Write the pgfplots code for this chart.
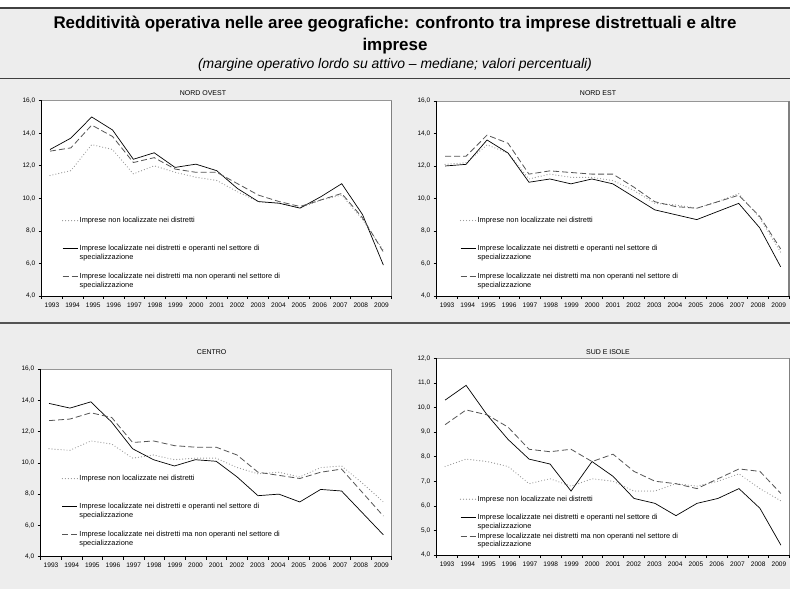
\documentclass[border=0pt]{standalone}
\usepackage{fontspec}
\setmainfont{Liberation Sans}
\usepackage{pgfplots}
\usepackage{pgfplotstable}
\pgfplotsset{compat=1.18}
\definecolor{bg}{RGB}{237,237,237}
\definecolor{dline}{RGB}{64,64,64}
\definecolor{dashc}{RGB}{85,85,85}
\definecolor{dotc}{RGB}{150,150,150}
\definecolor{frame}{RGB}{150,150,150}

\pgfplotstableread{
year dot sol dash
1993 11.4 13.0 12.9
1994 11.7 13.7 13.1
1995 13.3 15.0 14.5
1996 13.0 14.2 13.8
1997 11.5 12.4 12.2
1998 12.0 12.8 12.5
1999 11.6 11.9 11.8
2000 11.3 12.1 11.6
2001 11.1 11.7 11.6
2002 10.4 10.6 10.9
2003 9.8 9.8 10.2
2004 9.7 9.7 9.8
2005 9.4 9.4 9.5
2006 9.9 10.1 9.9
2007 10.2 10.9 10.3
2008 8.7 9.0 8.8
2009 6.8 5.9 6.7
}\NO
\pgfplotstableread{
year dot sol dash
1993 12.1 12.0 12.6
1994 12.2 12.1 12.6
1995 13.3 13.6 13.9
1996 12.8 12.8 13.4
1997 11.2 11.0 11.5
1998 11.5 11.2 11.7
1999 11.3 10.9 11.6
2000 11.3 11.2 11.5
2001 11.1 10.9 11.5
2002 10.5 10.1 10.7
2003 9.7 9.3 9.8
2004 9.6 9.0 9.5
2005 9.4 8.7 9.4
2006 9.8 9.2 9.8
2007 10.3 9.7 10.2
2008 8.8 8.2 8.9
2009 6.7 5.8 6.9
}\NE
\pgfplotstableread{
year dot sol dash
1993 10.9 13.8 12.7
1994 10.8 13.5 12.8
1995 11.4 13.9 13.2
1996 11.2 12.6 12.9
1997 10.3 10.9 11.3
1998 10.5 10.2 11.4
1999 10.2 9.8 11.1
2000 10.3 10.2 11.0
2001 10.3 10.1 11.0
2002 9.7 9.1 10.5
2003 9.3 7.9 9.4
2004 9.4 8.0 9.2
2005 9.1 7.5 9.0
2006 9.7 8.3 9.4
2007 9.8 8.2 9.6
2008 8.7 6.8 8.1
2009 7.5 5.4 6.6
}\CE
\pgfplotstableread{
year dot sol dash
1993 7.6 10.3 9.3
1994 7.9 10.9 9.9
1995 7.8 9.7 9.7
1996 7.6 8.7 9.2
1997 6.9 7.9 8.3
1998 7.1 7.7 8.2
1999 6.8 6.6 8.3
2000 7.1 7.8 7.8
2001 7.0 7.2 8.1
2002 6.6 6.3 7.4
2003 6.6 6.1 7.0
2004 6.9 5.6 6.9
2005 6.8 6.1 6.7
2006 7.0 6.3 7.1
2007 7.3 6.7 7.5
2008 6.7 5.9 7.4
2009 6.2 4.4 6.5
}\SU

\newcommand{\LA}{\vtop{\hbox{\strut Imprese non localizzate nei distretti}\hbox{\strut}}}
\newcommand{\LB}{\vtop{\hbox{\strut Imprese localizzate nei distretti e operanti nel settore di}\hbox{\strut specializzazione}}}
\newcommand{\LC}{\vtop{\hbox{\strut Imprese localizzate nei distretti ma non operanti nel settore di}\hbox{\strut specializzazione}}}

\pgfplotsset{
  panel/.style={
    scale only axis,
    axis background/.style={fill=white},
    xmin=1992.6, xmax=2009.4,
    xtick=\empty,
    ytick pos=left,
    tick align=outside,
    major tick length=3bp,
    tick style={black, line width=0.6bp},
    axis line style={draw=none},
    yticklabel style={font=\fontsize{6.5}{7}\selectfont,
      /pgf/number format/fixed, /pgf/number format/fixed zerofill,
      /pgf/number format/precision=1, /pgf/number format/use comma,
      /pgf/number format/assume math mode=true},
    after end axis/.code={
      \draw[frame, line width=0.8bp] (rel axis cs:0,1) -- (rel axis cs:1,1);
      \draw[gray, line width=1.4bp] (rel axis cs:1,1) -- (rel axis cs:1,0);
      \draw[black, line width=0.8bp] (rel axis cs:0,1) -- (rel axis cs:0,0) -- (rel axis cs:1,0);
    },
    legend style={draw=none, fill=none, inner sep=0pt, outer sep=0pt,
      anchor=north west, cells={anchor=base west},
      nodes={inner sep=0pt, text depth=, text height=, font=\fontsize{7.4}{8.7}\selectfont},
      column sep=1.5bp, row sep=10.6bp},
    legend image code/.code={\draw[##1] (0bp,2.3bp) -- (15bp,2.3bp);},
  },
  xlab/.style={
    scale only axis,
    xmin=0, xmax=17, ymin=0, ymax=1,
    axis y line=none, axis x line*=bottom,
    x axis line style={black, line width=0.8bp},
    xtick={0.5,1.5,...,16.5},
    xticklabels={1993,1994,1995,1996,1997,1998,1999,2000,2001,2002,2003,2004,2005,2006,2007,2008,2009},
    major tick length=0pt,
    minor xtick={0,1,...,17},
    minor tick length=3bp,
    tick align=outside,
    tick style={black, line width=0.6bp},
    xticklabel style={font=\fontsize{6.6}{7}\selectfont},
    xticklabel shift=3bp,
  },
  sdot/.style={dotc, line width=1.2bp, line cap=round, dash pattern=on 0bp off 3bp},
  ssol/.style={black, line width=0.7bp},
  sdash/.style={dashc, line width=0.8bp, dash pattern=on 6bp off 3bp},
}

\begin{document}
\begin{tikzpicture}[x=1bp,y=1bp]
\useasboundingbox (0,0) rectangle (790,589);
\fill[bg] (0,0) rectangle (790,589);
\fill[white] (0,581.7) rectangle (790,589);
\fill[dline] (0,579.7) rectangle (790,581.7);
\draw[dline, line width=1.3bp] (0,510.7) -- (790,510.7);
\draw[dline!90, line width=2bp] (0,266.3) -- (790,266.3);

\node[anchor=base, font=\fontsize{17}{19.5}\selectfont\bfseries] at (395,560.5)
  {Redditività operativa nelle aree geografiche: confronto tra imprese distrettuali e altre};
\node[anchor=base, font=\fontsize{17}{19.5}\selectfont\bfseries] at (395,538.5)
  {imprese};
\node[anchor=base, font=\fontsize{14}{16}\selectfont\itshape] at (395,520)
  {(margine operativo lordo su attivo – mediane; valori percentuali)};

\node[font=\fontsize{7}{8}\selectfont] at (203,496) {NORD OVEST};
\node[font=\fontsize{7}{8}\selectfont] at (598,496) {NORD EST};
\node[font=\fontsize{7}{8}\selectfont] at (211.7,237.3) {CENTRO};
\node[font=\fontsize{7}{8}\selectfont] at (608,237.3) {SUD E ISOLE};

% NORD OVEST
\begin{axis}[panel, at={(41.7bp,293bp)}, anchor=south west, width=350bp, height=195.3bp,
  ymin=4, ymax=16, ytick={4,6,...,16},
  legend style={at={(axis description cs:0.058,0.405)}}]
\addplot[sdot] table[x=year,y=dot]{\NO}; \addlegendentry{\LA}
\addplot[ssol] table[x=year,y=sol]{\NO}; \addlegendentry{\LB}
\addplot[sdash] table[x=year,y=dash]{\NO}; \addlegendentry{\LC}
\end{axis}
\begin{axis}[xlab, at={(41.7bp,293bp)}, anchor=south west, width=350bp, height=195.3bp]
\end{axis}

% NORD EST
\begin{axis}[panel, at={(436.7bp,293bp)}, anchor=south west, width=352.3bp, height=195bp,
  ymin=4, ymax=16, ytick={4,6,...,16},
  legend style={at={(axis description cs:0.066,0.406)}}]
\addplot[sdot] table[x=year,y=dot]{\NE}; \addlegendentry{\LA}
\addplot[ssol] table[x=year,y=sol]{\NE}; \addlegendentry{\LB}
\addplot[sdash] table[x=year,y=dash]{\NE}; \addlegendentry{\LC}
\end{axis}
\begin{axis}[xlab, at={(436.7bp,293bp)}, anchor=south west, width=352.3bp, height=195bp]
\end{axis}

% CENTRO
\begin{axis}[panel, at={(40.7bp,32.3bp)}, anchor=south west, width=351bp, height=187.7bp,
  ymin=4, ymax=16, ytick={4,6,...,16},
  legend style={at={(axis description cs:0.06,0.436)}}]
\addplot[sdot] table[x=year,y=dot]{\CE}; \addlegendentry{\LA}
\addplot[ssol] table[x=year,y=sol]{\CE}; \addlegendentry{\LB}
\addplot[sdash] table[x=year,y=dash]{\CE}; \addlegendentry{\LC}
\end{axis}
\begin{axis}[xlab, at={(40.7bp,32.3bp)}, anchor=south west, width=351bp, height=187.7bp]
\end{axis}

% SUD E ISOLE
\begin{axis}[panel, at={(436.7bp,34bp)}, anchor=south west, width=352.6bp, height=196.7bp,
  ymin=4, ymax=12, ytick={4,5,...,12},
  legend style={at={(axis description cs:0.066,0.3025)}, row sep=1bp}]
\addplot[sdot] table[x=year,y=dot]{\SU}; \addlegendentry{\LA}
\addplot[ssol] table[x=year,y=sol]{\SU}; \addlegendentry{\LB}
\addplot[sdash] table[x=year,y=dash]{\SU}; \addlegendentry{\LC}
\end{axis}
\begin{axis}[xlab, at={(436.7bp,34bp)}, anchor=south west, width=352.6bp, height=196.7bp]
\end{axis}
\end{tikzpicture}
\end{document}
